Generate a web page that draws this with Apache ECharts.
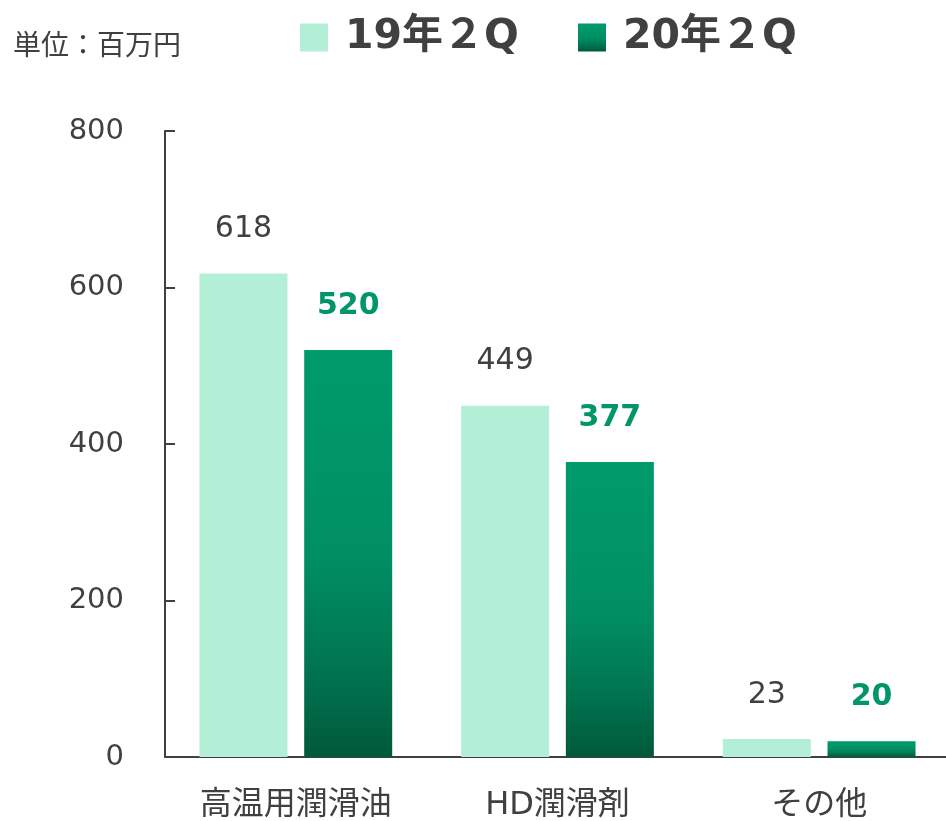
<html>
  <head>
    <meta charset="utf-8">
    <title>潤滑油 売上</title>
    <script src="https://cdn.jsdelivr.net/npm/echarts@6.0.0/dist/echarts.min.js"></script>
    <style>
      body {
        margin: 0px;
        background-color: white;
      }
      #chart {
        width: 946px;
        height: 821px;
      }
    </style>
  </head>
  <body>
    <div id="chart"></div>
  </body>
</html>
<script type="text/javascript">
  const categories = ['高温用潤滑油', 'HD潤滑剤', 'その他']
  const seriesNames = ['19年２Q', '20年２Q']
  const values19 = [618, 449, 23]
  const values20 = [520, 377, 20]
  const yTicks = [0, 200, 400, 600, 800]

  const font = "'DejaVu Sans', 'Noto Sans CJK JP', sans-serif"
  const textColor = '#404040'

  // darker toward the bottom, flat in the upper half
  const darkGreen = new echarts.graphic.LinearGradient(0, 0, 0, 1, [
    { offset: 0, color: '#009b6b' },
    { offset: 0.5, color: '#008f63' },
    { offset: 0.75, color: '#007852' },
    { offset: 1, color: '#00593b' }
  ])

  const myChart = echarts.init(document.getElementById('chart'), null, { width: 946, height: 821 })

  let option = {
    animation: false,
    title: {
      text: '単位：百万円',
      left: 8,
      top: 29,
      textStyle: { fontFamily: font, fontSize: 28, fontWeight: 'normal', color: textColor }
    },
    legend: [
      {
        data: [seriesNames[0]],
        left: 300,
        top: 17,
        padding: 0,
        icon: 'rect',
        itemWidth: 28,
        itemHeight: 28,
        textStyle: { fontFamily: font, fontSize: 41, fontWeight: 'bold', color: textColor, padding: [0, 0, 0, 12] }
      },
      {
        data: [seriesNames[1]],
        left: 578,
        top: 17,
        padding: 0,
        icon: 'rect',
        itemWidth: 28,
        itemHeight: 28,
        textStyle: { fontFamily: font, fontSize: 41, fontWeight: 'bold', color: textColor, padding: [0, 0, 0, 12] }
      }
    ],
    grid: { left: 165, width: 785, top: 131, height: 626, containLabel: false, outerBoundsMode: 'none' },
    xAxis: {
      type: 'category',
      data: categories,
      axisLine: { lineStyle: { color: textColor, width: 2 } },
      axisTick: { inside: true, length: 10, lineStyle: { color: textColor, width: 2 } },
      axisLabel: { fontFamily: font, fontSize: 32, color: textColor, margin: 33 }
    },
    yAxis: {
      type: 'value',
      min: yTicks[0],
      max: yTicks[yTicks.length - 1],
      interval: yTicks[1] - yTicks[0],
      splitLine: { show: false },
      axisLine: { show: true, lineStyle: { color: textColor, width: 2 } },
      axisTick: { show: true, inside: true, length: 10, lineStyle: { color: textColor, width: 2 } },
      axisLabel: { fontFamily: font, fontSize: 29, color: textColor, margin: 41 }
    },
    series: [
      {
        name: seriesNames[0],
        type: 'bar',
        data: values19,
        barWidth: 88,
        barGap: '19%',
        itemStyle: { color: '#b3eed6' },
        label: {
          show: true,
          position: 'top',
          distance: 29,
          fontFamily: font,
          fontSize: 30,
          lineHeight: 30,
          color: textColor
        }
      },
      {
        name: seriesNames[1],
        type: 'bar',
        data: values20,
        barWidth: 88,
        itemStyle: { color: darkGreen },
        label: {
          show: true,
          position: 'top',
          distance: 29,
          fontFamily: font,
          fontSize: 30,
          lineHeight: 30,
          fontWeight: 'bold',
          color: '#00966a'
        }
      }
    ]
  }

  myChart.setOption(option)
</script>
